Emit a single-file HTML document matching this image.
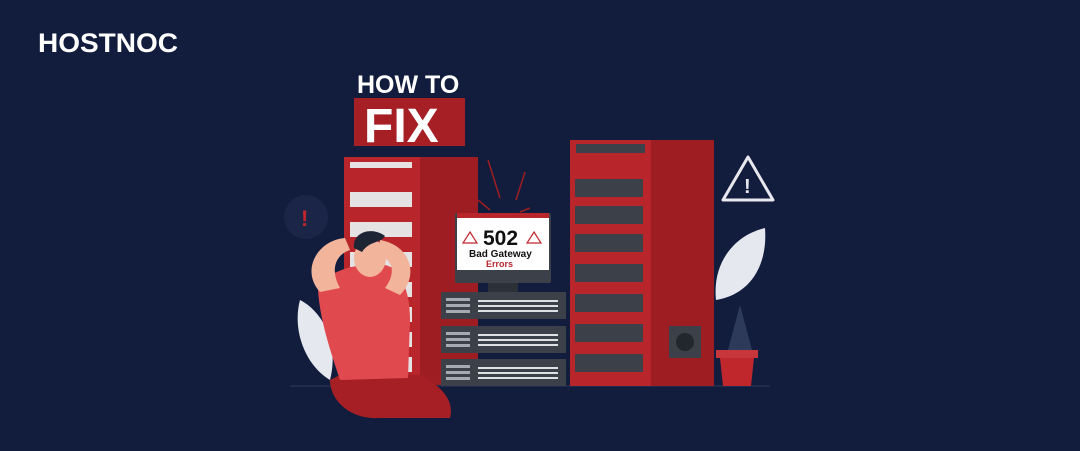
<!DOCTYPE html>
<html><head><style>
html,body{margin:0;padding:0;background:#121d3d;}
svg{display:block;}
text{font-family:"Liberation Sans",sans-serif;font-weight:bold;}
</style></head><body>
<svg width="1080" height="451" viewBox="0 0 1080 451" xmlns="http://www.w3.org/2000/svg">
<rect width="1080" height="451" fill="#121d3d"/>
<text x="38" y="52" font-size="27" fill="#fff" textLength="140" lengthAdjust="spacingAndGlyphs">HOSTNOC</text>
<text x="357" y="93" font-size="25" fill="#fff">HOW TO</text>
<rect x="354" y="98" width="111" height="48" fill="#a51f25"/>
<text x="364" y="142" font-size="48" fill="#fff">FIX</text>
<circle cx="306" cy="217" r="22" fill="#1a2547"/>
<text x="301" y="226" font-size="22" fill="#c0272d">!</text>
<path d="M748 157 L773 200 L723 200 Z" fill="none" stroke="#e8e8ee" stroke-width="3" stroke-linejoin="round"/>
<text x="744" y="193" font-size="20" fill="#e8e8ee">!</text>
<line x1="290" y1="386" x2="770" y2="386" stroke="#1f2a4d" stroke-width="2"/>
<path d="M300 300 C320 310 340 340 330 380 C305 365 292 330 300 300Z" fill="#e6e8ef"/>
<rect x="344" y="157" width="76" height="228" fill="#b8262c"/>
<rect x="420" y="157" width="58" height="228" fill="#9d1d22"/>
<g fill="#e5e2e3">
<rect x="350" y="162" width="62" height="6"/>
<rect x="350" y="192" width="62" height="15"/>
<rect x="350" y="222" width="62" height="15"/>
<rect x="350" y="252" width="62" height="15"/>
<rect x="350" y="282" width="62" height="15"/>
<rect x="350" y="307" width="62" height="15"/>
<rect x="350" y="332" width="62" height="15"/>
<rect x="350" y="357" width="62" height="15"/>
</g>
<rect x="570" y="140" width="81" height="246" fill="#b8262c"/>
<rect x="651" y="140" width="63" height="246" fill="#9d1d22"/>
<rect x="576" y="144" width="69" height="9" fill="#3b4049"/>
<g fill="#3b4049">
<rect x="575" y="179" width="68" height="18"/>
<rect x="575" y="206" width="68" height="18"/>
<rect x="575" y="234" width="68" height="18"/>
<rect x="575" y="264" width="68" height="18"/>
<rect x="575" y="294" width="68" height="18"/>
<rect x="575" y="324" width="68" height="18"/>
<rect x="575" y="354" width="68" height="18"/>
</g>
<rect x="669" y="326" width="32" height="32" fill="#3b4049"/>
<circle cx="685" cy="342" r="9" fill="#22262d"/>
<path d="M716 300 C712 262 735 235 765 228 C768 268 748 295 716 300Z" fill="#e6e8ef"/>
<path d="M728 350 L740 305 L752 350Z" fill="#2d3a5a"/>
<rect x="716" y="350" width="42" height="8" fill="#c6363b"/>
<path d="M720 358 L754 358 L751 386 L723 386Z" fill="#c0272d"/>
<g stroke="#9d1d22" stroke-width="1.5">
<line x1="488" y1="160" x2="500" y2="198"/>
<line x1="525" y1="172" x2="516" y2="200"/>
<line x1="478" y1="200" x2="490" y2="210"/>
<line x1="530" y1="208" x2="520" y2="212"/>
</g>
<rect x="455" y="213" width="96" height="70" rx="2" fill="#3b4049"/>
<rect x="457" y="218" width="92" height="52" fill="#fff"/>
<rect x="457" y="213" width="92" height="5" fill="#b8262c"/>
<rect x="488" y="283" width="30" height="10" fill="#2c3038"/>
<text x="483" y="245" font-size="21" fill="#111">502</text>
<text x="469" y="257" font-size="10" fill="#111">Bad Gateway</text>
<text x="486" y="267" font-size="9" fill="#b8262c">Errors</text>
<path d="M470 232 L477 243 L463 243Z" fill="none" stroke="#c0272d" stroke-width="1.2"/>
<path d="M534 232 L541 243 L527 243Z" fill="none" stroke="#c0272d" stroke-width="1.2"/>
<g fill="#3b4049">
<rect x="441" y="292" width="125" height="27"/>
<rect x="441" y="326" width="125" height="27"/>
<rect x="441" y="359" width="125" height="27"/>
</g>
<g fill="#a6aab2">
<rect x="446" y="298" width="24" height="3"/><rect x="446" y="304" width="24" height="3"/><rect x="446" y="310" width="24" height="3"/>
<rect x="446" y="332" width="24" height="3"/><rect x="446" y="338" width="24" height="3"/><rect x="446" y="344" width="24" height="3"/>
<rect x="446" y="365" width="24" height="3"/><rect x="446" y="371" width="24" height="3"/><rect x="446" y="377" width="24" height="3"/>
</g>
<g fill="#dfe0e4">
<rect x="478" y="300" width="80" height="2"/><rect x="478" y="305" width="80" height="2"/><rect x="478" y="310" width="80" height="2"/>
<rect x="478" y="334" width="80" height="2"/><rect x="478" y="339" width="80" height="2"/><rect x="478" y="344" width="80" height="2"/>
<rect x="478" y="367" width="80" height="2"/><rect x="478" y="372" width="80" height="2"/><rect x="478" y="377" width="80" height="2"/>
</g>
<path d="M330 380 C330 400 350 420 380 418 L450 418 C455 400 440 385 420 375 L350 370Z" fill="#a51f25"/>
<path d="M318 290 C325 270 360 262 385 265 C400 268 410 290 410 320 L408 378 L340 380 C330 350 320 320 318 290Z" fill="#e04a4f"/>
<path d="M320 292 C300 270 318 240 345 238 L350 250 C335 255 330 270 340 288Z" fill="#f2b49b"/>
<path d="M400 295 C420 275 410 245 380 240 L378 255 C395 260 395 275 385 288Z" fill="#f2b49b"/>
<ellipse cx="370" cy="258" rx="16" ry="19" fill="#f2b49b"/>
<path d="M354 248 C352 232 372 226 385 236 C380 244 370 240 362 252Z" fill="#1d2433"/>
</svg>
</body></html>
